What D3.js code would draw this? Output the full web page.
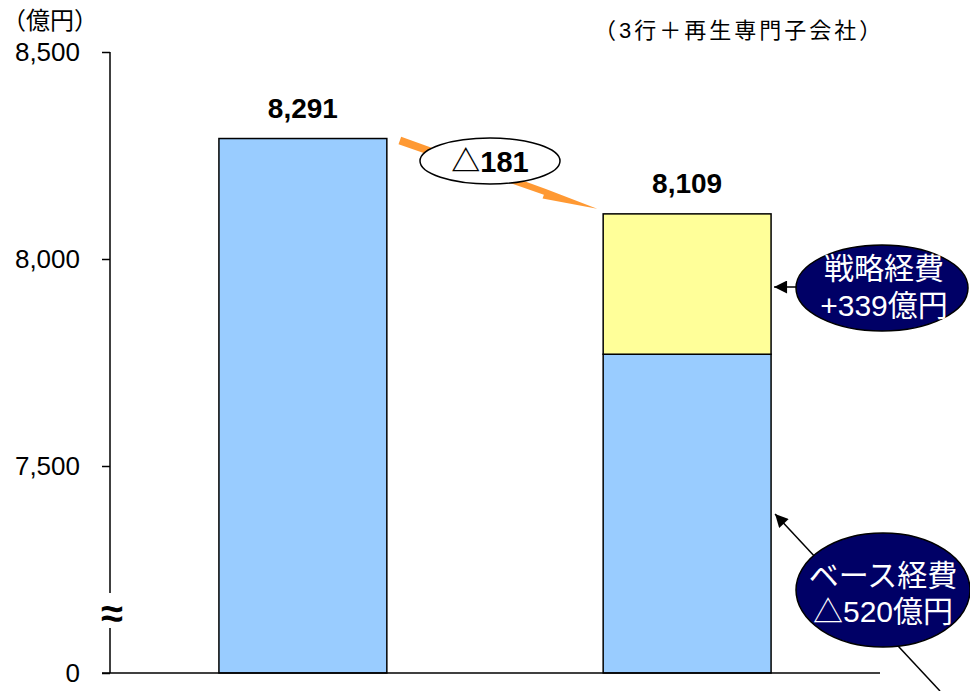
<!DOCTYPE html>
<html><head><meta charset="utf-8">
<script src="https://cdn.jsdelivr.net/npm/d3@7"></script>
<style>
html,body{margin:0;padding:0;background:#fff;}
svg{display:block;}
text{font-family:"Liberation Sans",Arial,"Noto Sans CJK JP",sans-serif;}
</style></head>
<body>
<svg id="chart" width="970" height="691"></svg>
<script>
// ---- data ----
const categories = ["前期", "今期"];
const baseValues = [8291, 7770];
const strategicValues = [0, 339];
const totalLabels = ["8,291", "8,109"];
const tickValues = [7000, 7500, 8000, 8500];
const tickLabels = ["0", "7,500", "8,000", "8,500"];
const changeLabel = "△181";
const unitLabel = "（億円）";
const noteLabel = "（3行＋再生専門子会社）";
const strategicNote = ["戦略経費", "+339億円"];
const baseNote = ["ベース経費", "△520億円"];

const svg = d3.select("#chart");
const y = d3.scaleLinear().domain([7000, 8500]).range([673, 52]);
const x = d3.scaleBand().domain(categories).range([110, 880]).paddingInner(0.563).paddingOuter(0.2835);

// axis
const axisG = svg.append("g").attr("transform", "translate(110,0)")
  .call(d3.axisLeft(y).tickValues(tickValues).tickSize(8)
    .tickFormat((d, i) => tickLabels[i]));
axisG.select(".domain").remove();
axisG.selectAll(".tick line").attr("stroke", "#000").attr("stroke-width", 1.5);
axisG.selectAll(".tick text").attr("x", -30).attr("font-size", 26).attr("fill", "#000")
  .attr("font-family", "Liberation Sans, Arial, sans-serif");

// axis line with break
const breakY = y(7150);
svg.append("line").attr("x1", 110).attr("x2", 110).attr("y1", y(8500)).attr("y2", breakY - 18)
  .attr("stroke", "#000").attr("stroke-width", 1.5);
svg.append("line").attr("x1", 110).attr("x2", 110).attr("y1", breakY + 17).attr("y2", y(7000))
  .attr("stroke", "#000").attr("stroke-width", 1.5);
svg.append("text").attr("x", 112).attr("y", breakY + 2).attr("text-anchor", "middle")
  .attr("dominant-baseline", "central").attr("font-size", 40).attr("font-weight", "bold")
  .attr("font-family", "DejaVu Sans, sans-serif")
  .text("≈");

// bars
const barG = svg.append("g");
barG.selectAll("rect.base").data(categories).join("rect").attr("class", "base")
  .attr("x", d => x(d)).attr("width", x.bandwidth())
  .attr("y", (d, i) => y(baseValues[i])).attr("height", (d, i) => y(7000) - y(baseValues[i]))
  .attr("fill", "#99CCFF").attr("stroke", "#000").attr("stroke-width", 1.5);
barG.selectAll("rect.strat").data(categories.filter((d, i) => strategicValues[i] > 0)).join("rect")
  .attr("class", "strat")
  .attr("x", d => x(d)).attr("width", x.bandwidth())
  .attr("y", d => { const i = categories.indexOf(d); return y(baseValues[i] + strategicValues[i]); })
  .attr("height", d => { const i = categories.indexOf(d); return y(baseValues[i]) - y(baseValues[i] + strategicValues[i]); })
  .attr("fill", "#FFFF99").attr("stroke", "#000").attr("stroke-width", 1.5);

// baseline
svg.append("line").attr("x1", 102).attr("x2", 880).attr("y1", y(7000)).attr("y2", y(7000))
  .attr("stroke", "#000").attr("stroke-width", 1.5);

// value labels
svg.selectAll("text.val").data(categories).join("text").attr("class", "val")
  .attr("x", d => x(d) + x.bandwidth() / 2)
  .attr("y", (d, i) => y(baseValues[i] + strategicValues[i]) - 21)
  .attr("text-anchor", "middle").attr("font-size", 28).attr("font-weight", "bold")
  .text((d, i) => totalLabels[i]);

// orange arrow between bars
const tot0 = baseValues[0] + strategicValues[0];
const tot1 = baseValues[1] + strategicValues[1];
const p0 = [x(categories[0]) + x.bandwidth() + 13, y(tot0) + 2];
const p1 = [x(categories[1]) - 6, y(tot1) - 5];
const dx = p1[0] - p0[0], dy = p1[1] - p0[1], len = Math.hypot(dx, dy);
const ux = dx / len, uy = dy / len, px = -uy, py = ux;
const hl = 55, hw = 8, sw = 4;
const b = [p1[0] - ux * hl, p1[1] - uy * hl];
const pts = [
  [p0[0] + px * sw, p0[1] + py * sw],
  [b[0] + px * sw, b[1] + py * sw],
  [b[0] + px * hw, b[1] + py * hw],
  p1,
  [b[0] - px * 2, b[1] - py * 2],
  [p0[0] - px * sw, p0[1] - py * sw]
];
svg.append("polygon").attr("points", pts.map(p => p.join(",")).join(" ")).attr("fill", "#FF9933");

svg.append("ellipse").attr("cx", 490).attr("cy", 161).attr("rx", 70).attr("ry", 23)
  .attr("fill", "#fff").attr("stroke", "#000").attr("stroke-width", 1.5);
svg.append("text").attr("x", 490).attr("y", 162).attr("text-anchor", "middle")
  .attr("dominant-baseline", "central").attr("font-size", 29).attr("font-weight", "bold")
  .text(changeLabel);

// arrowhead marker
const defs = svg.append("defs");
defs.append("marker").attr("id", "ah2").attr("viewBox", "0 0 10 10").attr("refX", 10).attr("refY", 5)
  .attr("markerWidth", 18).attr("markerHeight", 13).attr("markerUnits", "userSpaceOnUse")
  .attr("orient", "auto").append("path").attr("d", "M0,0 L10,5 L0,10 Z").attr("fill", "#000");

const barRight = x(categories[1]) + x.bandwidth();
// strategic callout
svg.append("line").attr("x1", 800).attr("y1", 287).attr("x2", barRight + 3).attr("y2", 287)
  .attr("stroke", "#000").attr("stroke-width", 1.5).attr("marker-end", "url(#ah2)");
svg.append("ellipse").attr("cx", 882).attr("cy", 288).attr("rx", 86).attr("ry", 43)
  .attr("fill", "#000066").attr("stroke", "#000").attr("stroke-width", 1.5);
svg.append("text").attr("x", 883).attr("y", 0).attr("text-anchor", "middle").attr("fill", "#fff")
  .attr("font-size", 30)
  .selectAll("tspan").data(strategicNote).join("tspan")
  .attr("x", 884).attr("y", (d, i) => 268 + i * 37).attr("dominant-baseline", "central").text(d => d);

// base callout
svg.append("line").attr("x1", 940).attr("y1", 691).attr("x2", barRight + 4).attr("y2", 514)
  .attr("stroke", "#000").attr("stroke-width", 1.5).attr("marker-end", "url(#ah2)");
svg.append("ellipse").attr("cx", 883).attr("cy", 590).attr("rx", 87).attr("ry", 57)
  .attr("fill", "#000066").attr("stroke", "#000").attr("stroke-width", 1.5);
svg.append("text").attr("x", 883).attr("y", 0).attr("text-anchor", "middle").attr("fill", "#fff")
  .attr("font-size", 30)
  .selectAll("tspan").data(baseNote).join("tspan")
  .attr("x", 883).attr("y", (d, i) => 575 + i * 36).attr("dominant-baseline", "central").text(d => d);

// titles
svg.append("text").attr("x", 2).attr("y", 20).attr("dominant-baseline", "central")
  .attr("font-family", "Noto Sans CJK JP, sans-serif")
  .attr("font-size", 24).text(unitLabel);
svg.append("text").attr("x", 594).attr("y", 30).attr("dominant-baseline", "central")
  .attr("font-size", 22).attr("letter-spacing", 3).text(noteLabel);
</script>
</body></html>
